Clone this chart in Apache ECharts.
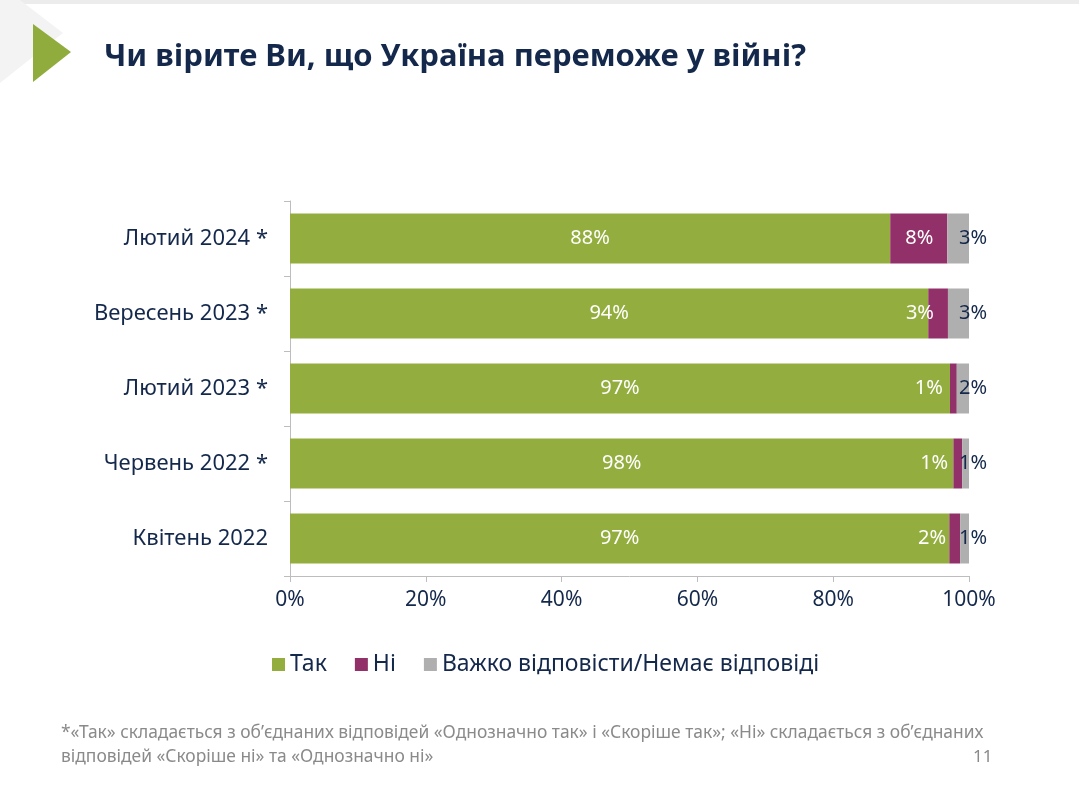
<!DOCTYPE html>
<html>
<head>
<meta charset="utf-8">
<script src="https://cdn.jsdelivr.net/npm/echarts@6/dist/echarts.min.js"></script>
<style>
html,body{margin:0;padding:0;background:#fff;}
#chart{width:1079px;height:788px;}
</style>
</head>
<body>
<div id="chart"></div>
<script>
const categories = ['Квітень 2022', 'Червень 2022 *', 'Лютий 2023 *', 'Вересень 2023 *', 'Лютий 2024 *'];
const yesValues = [97.1, 97.7, 97.2, 94.0, 88.4];
const noValues = [1.6, 1.3, 1.0, 2.9, 8.4];
const hardValues = [1.3, 1.0, 1.8, 3.1, 3.2];
const seriesNames = ['Так', 'Ні', 'Важко відповісти/Немає відповіді'];
const xTicks = [0, 20, 40, 60, 80, 100];
const titleText = 'Чи вірите Ви, що Україна переможе у війні?';
const footnoteLines = [
  '*«Так» складається з об’єднаних відповідей «Однозначно так» і «Скоріше так»; «Ні» складається з об’єднаних',
  'відповідей «Скоріше ні» та «Однозначно ні»'
];
const pageNumber = '11';

const FONT = 'Noto Sans';
const NAVY = '#14284b';
const chart = echarts.init(document.getElementById('chart'));
const pct = p => Math.round(p.value) + '%';

chart.setOption({
  animation: false,
  textStyle: { fontFamily: FONT },
  title: {
    text: titleText,
    left: 99, top: 37,
    textStyle: { fontFamily: FONT, fontWeight: 'bold', fontSize: 31, color: NAVY }
  },
  legend: {
    left: 267, top: 648,
    icon: 'rect', itemWidth: 13, itemHeight: 13, itemGap: 28,
    textStyle: { fontSize: 23, color: NAVY, fontFamily: FONT },
    data: seriesNames
  },
  grid: { left: 290, top: 201, width: 679, height: 375, containLabel: false },
  xAxis: {
    type: 'value', min: 0, max: 100, interval: 20,
    axisLine: { show: true, lineStyle: { color: '#bdbdbd' } },
    axisTick: { show: true, length: 6, lineStyle: { color: '#bdbdbd' } },
    splitLine: { show: false },
    axisLabel: { formatter: v => xTicks.includes(v) ? v + '%' : '', fontSize: 21, color: NAVY, margin: 14, fontFamily: FONT }
  },
  yAxis: {
    type: 'category', data: categories,
    axisLine: { show: true, lineStyle: { color: '#bdbdbd' } },
    axisTick: { show: true, length: 6, lineStyle: { color: '#bdbdbd' } },
    axisLabel: { fontSize: 22, color: NAVY, margin: 22, fontFamily: FONT }
  },
  series: [
    {
      name: seriesNames[0], type: 'bar', stack: 'total', data: yesValues,
      barWidth: 50,
      itemStyle: { color: '#93ae3e' },
      label: { show: true, position: 'inside', color: '#fff', fontSize: 20, formatter: pct, fontFamily: FONT }
    },
    {
      name: seriesNames[1], type: 'bar', stack: 'total', data: noValues,
      itemStyle: { color: '#923169' },
      label: { show: true, position: 'insideRight', distance: 14, color: '#fff', fontSize: 20, formatter: pct, fontFamily: FONT }
    },
    {
      name: seriesNames[2], type: 'bar', stack: 'total', data: hardValues,
      itemStyle: { color: '#afafaf' },
      label: { show: true, position: 'right', distance: 0, offset: [-10, 0], color: NAVY, fontSize: 20, formatter: pct, fontFamily: FONT }
    }
  ],
  graphic: [
    { type: 'rect', shape: { x: 0, y: 0, width: 1079, height: 4 }, style: { fill: '#ececec' } },
    { type: 'polygon', shape: { points: [[0, 0], [20, 0], [63, 33], [0, 83]] }, style: { fill: '#f3f3f3' } },
    { type: 'polygon', shape: { points: [[33, 24], [33, 82], [71, 52]] }, style: { fill: '#8fac3c' } },
    { type: 'text', left: 61, top: 721, style: { text: footnoteLines.join('\n'), fill: '#8a8a8a', font: '17.4px "Noto Sans"', lineHeight: 24 } },
    { type: 'text', left: 973, top: 749, style: { text: pageNumber, fill: '#8a8a8a', font: '17px "Noto Sans"' } }
  ]
});
</script>
</body>
</html>
